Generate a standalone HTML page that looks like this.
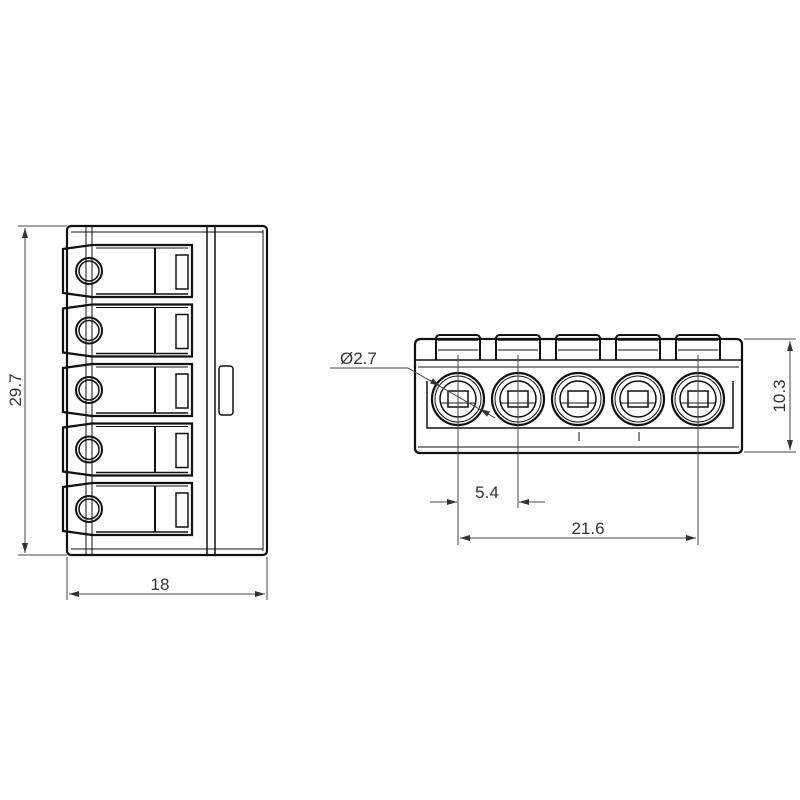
<!DOCTYPE html>
<html><head><style>body{margin:0;background:#fff}svg{display:block}</style></head><body>
<svg width="800" height="800" viewBox="0 0 800 800" xmlns="http://www.w3.org/2000/svg" font-family="Liberation Sans, sans-serif">
<defs>
<marker id="a" viewBox="0 0 10 6" refX="10" refY="3" markerWidth="10" markerHeight="6" orient="auto-start-reverse"><path d="M0,0L10,3L0,6z" fill="#333"/></marker>
<g id="tab" fill="none" stroke="#111">
  <path d="M63,-22 L92,-26 L192,-26 L192,26 L92,26 L63,22 Z" stroke-width="2.2"/>
  <line x1="92" y1="-26" x2="92" y2="26" stroke-width="1"/>
  <line x1="96" y1="-23" x2="188" y2="-23" stroke-width="1"/>
  <line x1="96" y1="23" x2="188" y2="23" stroke-width="1.5"/>
  <line x1="155" y1="-23" x2="155" y2="23" stroke-width="2"/>
  <rect x="176" y="-16" width="12" height="34" stroke-width="1.5"/>
  <circle cx="89" cy="0" r="13" stroke-width="2"/>
  <circle cx="89" cy="0" r="10" stroke-width="1.5"/>
</g>
<g id="hole" fill="none" stroke="#111">
  <circle r="26" stroke-width="2.2"/>
  <circle r="23" stroke-width="1"/>
  <circle r="18" stroke-width="1.5"/>
  <rect x="-10" y="-8" width="20" height="16" stroke-width="1.5"/>
  <line x1="-18" y1="4" x2="18" y2="4" stroke-width="1"/>
</g>
<g id="ttab" fill="none" stroke="#111">
  <path d="M-22,25 L-22,4 Q-22,0 -18,0 L18,0 Q22,0 22,4 L22,25" stroke-width="2"/>
  <line x1="-20" y1="5" x2="20" y2="5" stroke-width="1.5"/>
  <line x1="-20" y1="15" x2="20" y2="15" stroke-width="1"/>
</g>
</defs>

<!-- LEFT VIEW -->
<g fill="none" stroke="#111">
  <rect x="67" y="226" width="200" height="329" rx="4" stroke-width="2.2"/>
  <line x1="71" y1="232" x2="263" y2="232" stroke-width="1"/>
  <line x1="71" y1="549" x2="263" y2="549" stroke-width="1"/>
  <line x1="207" y1="226" x2="207" y2="555" stroke-width="1.5"/>
  <line x1="215" y1="226" x2="215" y2="555" stroke-width="1.5"/>
  <line x1="263" y1="230" x2="263" y2="551" stroke-width="1"/>
  <line x1="86" y1="226" x2="86" y2="555" stroke-width="1"/>
  <line x1="92" y1="226" x2="92" y2="555" stroke-width="1"/>
  <rect x="219" y="366" width="14" height="49" rx="3" stroke-width="1.5"/>
</g>
<use href="#tab" transform="translate(0,271)"/>
<use href="#tab" transform="translate(0,330.5)"/>
<use href="#tab" transform="translate(0,390)"/>
<use href="#tab" transform="translate(0,449.5)"/>
<use href="#tab" transform="translate(0,509)"/>

<!-- left dims -->
<g stroke="#444" stroke-width="1" fill="none">
  <line x1="18" y1="226" x2="67" y2="226"/>
  <line x1="18" y1="555" x2="67" y2="555"/>
  <line x1="25" y1="228" x2="25" y2="553" marker-start="url(#a)" marker-end="url(#a)"/>
  <line x1="67" y1="557" x2="67" y2="600"/>
  <line x1="267" y1="557" x2="267" y2="600"/>
  <line x1="69" y1="594" x2="265" y2="594" marker-start="url(#a)" marker-end="url(#a)"/>
</g>
<text x="160" y="590" font-size="17" fill="#333" text-anchor="middle">18</text>
<text transform="translate(21,390) rotate(-90)" font-size="17" fill="#333" text-anchor="middle">29.7</text>

<!-- RIGHT VIEW -->
<use href="#ttab" transform="translate(458,335)"/>
<use href="#ttab" transform="translate(518,335)"/>
<use href="#ttab" transform="translate(578,335)"/>
<use href="#ttab" transform="translate(638,335)"/>
<use href="#ttab" transform="translate(698,335)"/>
<g fill="none" stroke="#111">
  <path d="M415,345 Q415,339 421,339 L736,339 Q742,339 742,345 L742,448 Q742,453 737,453 L420,453 Q415,453 415,448 Z" stroke-width="2.2"/>
  <line x1="415" y1="360" x2="742" y2="360" stroke-width="1.5"/>
  <line x1="418" y1="367" x2="739" y2="367" stroke-width="1"/>
  <path d="M427,381 L427,428 L733,428 L733,381" stroke-width="1.5"/>
  <line x1="418" y1="447" x2="739" y2="447" stroke-width="1"/>
  <line x1="579" y1="432" x2="579" y2="441" stroke-width="1"/>
  <line x1="639" y1="432" x2="639" y2="441" stroke-width="1"/>
</g>
<use href="#hole" transform="translate(458,399)"/>
<use href="#hole" transform="translate(518,399)"/>
<use href="#hole" transform="translate(578,399)"/>
<use href="#hole" transform="translate(638,399)"/>
<use href="#hole" transform="translate(698,399)"/>

<!-- right dims -->
<g stroke="#444" stroke-width="1" fill="none">
  <line x1="458" y1="355" x2="458" y2="545"/>
  <line x1="518" y1="355" x2="518" y2="508"/>
  <line x1="698" y1="355" x2="698" y2="545"/>
  <line x1="430" y1="502" x2="457" y2="502" marker-end="url(#a)"/>
  <line x1="545" y1="502" x2="519" y2="502" marker-end="url(#a)"/>
  <line x1="460" y1="538" x2="696" y2="538" marker-start="url(#a)" marker-end="url(#a)"/>
  <line x1="744" y1="339" x2="796" y2="339"/>
  <line x1="744" y1="452" x2="796" y2="452"/>
  <line x1="790" y1="341" x2="790" y2="450" marker-start="url(#a)" marker-end="url(#a)"/>
  <line x1="330" y1="368" x2="408" y2="368"/>
  <line x1="408" y1="368" x2="495" y2="418"/>
  <line x1="430" y1="380" x2="440" y2="386" marker-end="url(#a)"/>
  <line x1="490" y1="415" x2="480" y2="409" marker-end="url(#a)"/>
</g>
<text x="487" y="498" font-size="17" fill="#333" text-anchor="middle">5.4</text>
<text x="588" y="534" font-size="17" fill="#333" text-anchor="middle">21.6</text>
<text transform="translate(785,396) rotate(-90)" font-size="17" fill="#333" text-anchor="middle">10.3</text>
<text x="340" y="364" font-size="17" fill="#333">Ø2.7</text>
</svg>
</body></html>
